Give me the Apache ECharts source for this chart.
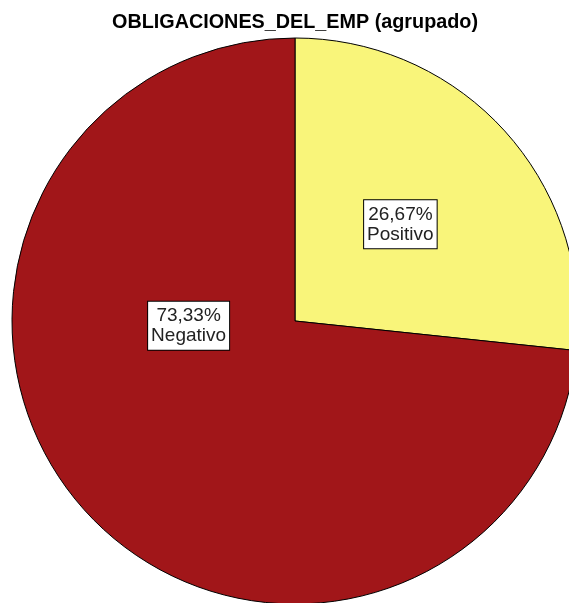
<!DOCTYPE html>
<html>
<head>
<meta charset="utf-8">
<script src="https://cdn.jsdelivr.net/npm/echarts@6/dist/echarts.min.js"></script>
<style>
html,body{margin:0;padding:0;background:#fff;}
#c{width:569px;height:603px;}
</style>
</head>
<body>
<div id="c"></div>
<script>
const categories = ['Positivo', 'Negativo'];
const counts = [4, 11];
const colors = ['#F9F57A', '#A11619'];
const labelOffsets = [[-2, 0], [1, -92]];

const chart = echarts.init(document.getElementById('c'), null, {renderer: 'canvas'});
const data = categories.map((name, i) => ({
  name: name,
  value: counts[i],
  itemStyle: {color: colors[i]},
  label: {offset: labelOffsets[i]}
}));
chart.setOption({
  animation: false,
  backgroundColor: '#fff',
  title: {
    text: 'OBLIGACIONES_DEL_EMP (agrupado)',
    left: 107,
    top: 8,
    textStyle: {fontFamily: 'Liberation Sans', fontWeight: 'bold', fontSize: 19.8, color: '#000'}
  },
  series: [{
    type: 'pie',
    center: [295, 321],
    radius: 283,
    startAngle: 90,
    clockwise: true,
    silent: true,
    itemStyle: {borderColor: '#000', borderWidth: 1},
    label: {
      position: 'inside',
      formatter: p => p.percent.toFixed(2).replace('.', ',') + '%\n' + p.name,
      fontFamily: 'Liberation Sans',
      fontSize: 19,
      lineHeight: 20,
      color: '#222',
      backgroundColor: '#fff',
      borderColor: '#000',
      borderWidth: 1,
      padding: [4, 3, 4, 3],
      align: 'center'
    },
    labelLine: {show: false},
    data: data
  }]
});
</script>
</body>
</html>
